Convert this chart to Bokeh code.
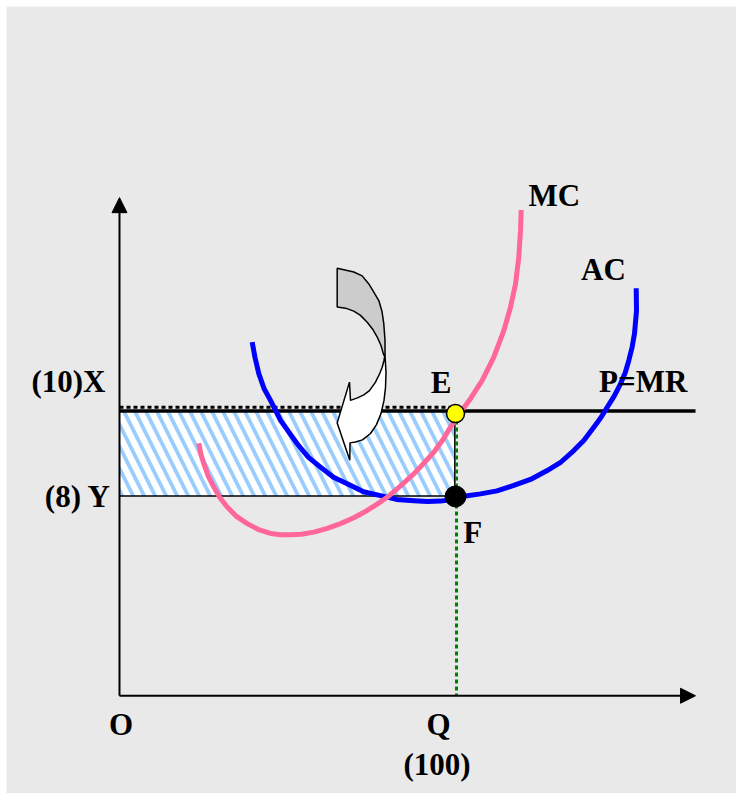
from bokeh.plotting import figure
from bokeh.models import Range1d, Arrow, NormalHead
from bokeh.core.properties import value
from bokeh.embed import file_html
from bokeh.resources import INLINE

# ---------------- data (quantity on x, price on y) ----------------
q_star = 100          # Q (100)
p_market = 10         # X (10) = P = MR
p_avgcost = 8         # Y (8)
axis_origin_p = 3.3   # where the quantity axis is drawn
q_axis_end = 171.43
p_axis_end = 15.02

ac_q = [39.49, 40.33, 41.46, 43.01, 44.94, 47.92, 52.89, 56.25, 59.82, 63.69,
        67.77, 72.62, 77.68, 82.44, 87.59, 91.67, 95.54, 99.11, 102.98, 107.44,
        112.35, 117.35, 122.32, 127.29, 131.4, 135.21, 138.24, 141.16, 143.24,
        145.15, 147.23, 149.11, 150.51, 151.58, 152.56, 153.27, 153.87, 153.78]
ac_p = [11.62, 11.26, 10.88, 10.53, 10.25, 9.78, 9.23, 8.91, 8.68, 8.44,
        8.29, 8.10, 8.01, 7.92, 7.89, 7.87, 7.88, 7.92, 8.0, 8.05,
        8.12, 8.25, 8.39, 8.6, 8.8, 9.07, 9.31, 9.62, 9.84,
        10.09, 10.35, 10.64, 10.9, 11.19, 11.5, 11.82, 12.36, 12.89]

mc_q = [23.6, 24.2, 25.09, 26.4, 28.07, 29.91, 32.05, 34.82, 38.01, 41.37,
        44.94, 47.92, 50.89, 54.17, 57.83, 61.82, 65.77, 69.73, 73.72, 76.7,
        79.67, 83.63, 87.59, 90.57, 93.54, 96.13, 98.51, 101.49, 104.46, 107.95,
        111.4, 114.38, 116.37, 117.86, 118.84, 119.35, 119.55]
mc_p = [9.24, 8.99, 8.76, 8.47, 8.21, 7.96, 7.74, 7.52, 7.35, 7.21,
        7.12, 7.09, 7.09, 7.10, 7.15, 7.24, 7.35, 7.49, 7.66, 7.81,
        7.97, 8.24, 8.52, 8.77, 9.03, 9.31, 9.62, 9.97, 10.29, 10.72,
        11.27, 11.89, 12.44, 12.99, 13.62, 14.25, 14.73]

# curved arrow: grey back face and white front face
arrow_back_q = [64.79, 69.73, 72.23, 74.2, 75.6, 77.17, 78.13, 78.66, 79.02, 79.02,
                78.66, 77.83, 76.7, 75.3, 73.72, 71.73, 69.73, 67.26, 64.79]
arrow_back_p = [13.36, 13.27, 13.18, 12.99, 12.81, 12.6, 12.34, 12.05, 11.66, 11.31,
                11.31, 11.54, 11.74, 11.93, 12.09, 12.25, 12.35, 12.42, 12.45]
arrow_front_q = [79.02, 79.32, 79.17, 78.72, 77.83, 76.49, 74.7, 72.32, 70.24, 68.6,
                 68.54, 64.79, 68.45, 68.75, 70.83, 72.71, 74.4, 76.19, 77.38,
                 78.18, 78.72, 78.96]
arrow_front_p = [11.31, 10.91, 10.55, 10.25, 9.94, 9.68, 9.47, 9.32, 9.27, 9.25,
                 8.84, 9.72, 10.68, 10.25, 10.31, 10.38, 10.48, 10.68, 10.87,
                 11.03, 11.19, 11.31]

point_E = (100, 9.94)
point_F = (100, 7.99)

label_text = ["MC", "AC", "P=MR", "E", "F", "(10)X", "(8) Y", "O", "Q", "(100)"]
label_q = [129.4, 144.02, 155.86, 95.74, 105.15, -15.18, -12.35, 0.45, 94.94, 94.49]
label_p = [15.06, 13.32, 10.69, 10.68, 7.13, 10.69, 7.99, 2.615, 2.615, 1.674]

# ---------------- figure ----------------
BG = "#e9e9e9"
p = figure(width=736, height=793, output_backend="svg", toolbar_location=None,
           x_range=Range1d(-33.63, 183.63), y_range=Range1d(1.0, 19.518),
           min_border_left=6, min_border_top=6, min_border_right=0, min_border_bottom=0,
           x_axis_type=None, y_axis_type=None,
           background_fill_color=BG, border_fill_color="white")
p.grid.visible = False
p.outline_line_color = None

# hatched profit rectangle
p.quad(left=[0], right=[q_star], bottom=[p_avgcost], top=[p_market],
       fill_color="white", line_color=None,
       hatch_pattern="left_diagonal_line", hatch_color="#99ccff",
       hatch_scale=22, hatch_weight=3.8)
p.line([0, q_star], [p_avgcost, p_avgcost], line_color="black", line_width=1.5)
p.line([q_star - 0.2, q_star - 0.2], [p_avgcost, p_market], line_color="black", line_width=1.5)

# green dotted line from E to the quantity axis
p.line([q_star + 0.3, q_star + 0.3], [point_E[1], axis_origin_p],
       line_color="#008000", line_width=3, line_dash="4 3")

# price line P = MR and dotted top of rectangle
p.line([0, q_axis_end], [p_market, p_market], line_color="black", line_width=3.5)
p.line([0, q_star], [p_market + 0.09, p_market + 0.09], line_color="black",
       line_width=3, line_dash="4 3")

# axes
head_kw = dict(fill_color="black", line_color="black")
p.add_layout(Arrow(end=NormalHead(size=15, **head_kw), x_start=0, y_start=axis_origin_p,
                   x_end=0, y_end=p_axis_end, line_width=2, line_color="black"))
p.add_layout(Arrow(end=NormalHead(size=15, **head_kw), x_start=0, y_start=axis_origin_p,
                   x_end=q_axis_end, y_end=axis_origin_p, line_width=2, line_color="black"))

# curved arrow
p.patch(arrow_back_q, arrow_back_p, fill_color="#cccccc", line_color="black", line_width=1.5)
p.patch(arrow_front_q, arrow_front_p, fill_color="white", line_color="black", line_width=1.5)

# cost curves
p.line(ac_q, ac_p, line_color="#0000ff", line_width=5, line_join="round")
p.line(mc_q, mc_p, line_color="#ff6699", line_width=5, line_join="round")

# points E and F
p.scatter([point_E[0]], [point_E[1]], size=18, fill_color="#ffff00",
          line_color="black", line_width=1.5)
p.scatter([point_F[0]], [point_F[1]], size=21, fill_color="black", line_color="black")

# labels
p.text(x=label_q, y=label_p, text=label_text, text_font=value("Liberation Serif"),
       text_font_style="bold", text_font_size="31px", text_align="center",
       text_baseline="alphabetic", text_color="black")

open("out.html", "w").write(file_html(p, INLINE))
